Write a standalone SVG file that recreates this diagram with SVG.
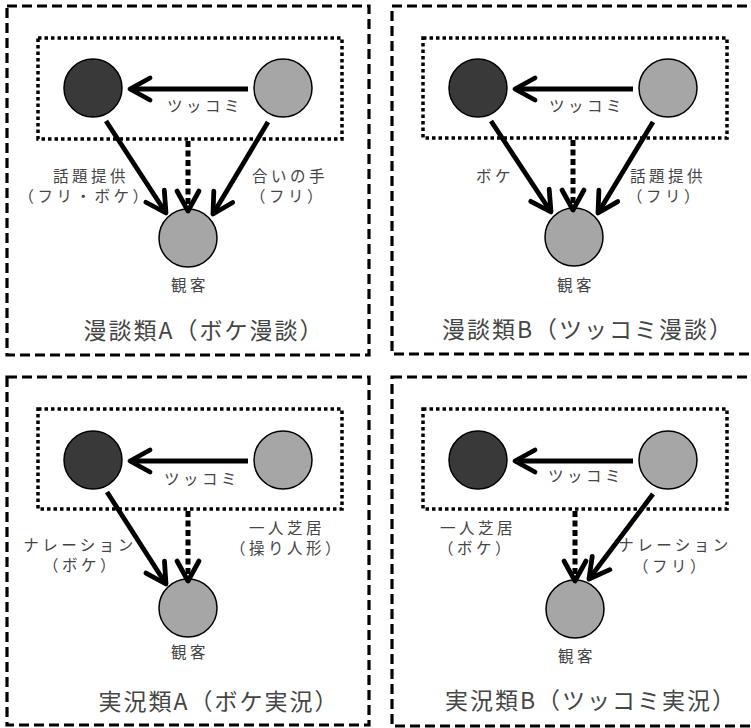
<svg xmlns="http://www.w3.org/2000/svg" width="751" height="728" viewBox="0 0 751 728">
<defs>
<style>
.outer{fill:none;stroke:#000;stroke-width:3.2;stroke-dasharray:10 5}
.inner{fill:none;stroke:#000;stroke-width:3.5;stroke-dasharray:3.5 3}
.dark{fill:#393939;stroke:#000;stroke-width:1.5}
.light{fill:#a6a6a6;stroke:#000;stroke-width:1.5}
.arr{fill:none;stroke:#000;stroke-width:4.8;marker-end:url(#ah)}
.dot{fill:none;stroke:#000;stroke-width:5;stroke-dasharray:6 3.5;marker-end:url(#ah)}
text{font-family:"Noto Sans CJK JP","Noto Sans",sans-serif;fill:#454545;text-anchor:middle}
.lbl{font-size:15.5px;letter-spacing:3.5px}
.ttl{font-size:23px;letter-spacing:2px}
</style>
<marker id="ah" viewBox="-24 -15 30 30" refX="0" refY="0" markerWidth="30" markerHeight="30" markerUnits="userSpaceOnUse" orient="auto">
<path d="M-20,-11 L0,0 L-20,11" fill="none" stroke="#000" stroke-width="4.8" stroke-linejoin="round" stroke-linecap="round"/>
</marker>
</defs>

<!-- Panel A -->
<g id="panelA">
<rect class="outer" x="7" y="6" width="362" height="349"/>
<rect class="inner" x="38" y="38" width="304" height="101"/>
<g id="A-boke"><circle class="dark" cx="93" cy="88" r="29"/></g>
<g id="A-tsukkomi"><circle class="light" cx="283" cy="88" r="29"/></g>
<g id="A-audience"><circle class="light" cx="188" cy="238" r="29"/><text class="lbl" x="190" y="291">観客</text></g>
<g id="A-connectors">
<line class="arr" x1="248" y1="89" x2="130" y2="89"/>
<line class="arr" x1="106" y1="121" x2="166" y2="213"/>
<line class="arr" x1="268" y1="122" x2="213" y2="214"/>
<line class="dot" x1="188" y1="141" x2="188" y2="211"/>
</g>
<g id="A-labels">
<text class="lbl" x="205" y="112">ツッコミ</text>
<text class="lbl" x="91" y="182">話題提供</text>
<text class="lbl" x="85" y="202">（フリ・ボケ）</text>
<text class="lbl" x="290" y="182">合いの手</text>
<text class="lbl" x="288" y="202">（フリ）</text>
</g>
<text class="ttl" x="204" y="339">漫談類A（ボケ漫談）</text>
</g>

<!-- Panel B -->
<g id="panelB" transform="translate(385,0)">
<rect class="outer" x="7" y="6" width="372" height="348"/>
<rect class="inner" x="38" y="38" width="304" height="100"/>
<g id="B-boke"><circle class="dark" cx="93" cy="88" r="29"/></g>
<g id="B-tsukkomi"><circle class="light" cx="283" cy="88" r="29"/></g>
<g id="B-audience"><circle class="light" cx="189" cy="237" r="29"/><text class="lbl" x="191" y="291">観客</text></g>
<g id="B-connectors">
<line class="arr" x1="248" y1="89" x2="130" y2="89"/>
<line class="arr" x1="106" y1="121" x2="166" y2="212"/>
<line class="arr" x1="268" y1="122" x2="213" y2="213"/>
<line class="dot" x1="188" y1="140" x2="188" y2="210"/>
</g>
<g id="B-labels">
<text class="lbl" x="202" y="112">ツッコミ</text>
<text class="lbl" x="110" y="182">ボケ</text>
<text class="lbl" x="283" y="182">話題提供</text>
<text class="lbl" x="280" y="202">（フリ）</text>
</g>
<text class="ttl" x="203" y="338">漫談類B（ツッコミ漫談）</text>
</g>

<!-- Panel C -->
<g id="panelC" transform="translate(0,371)">
<rect class="outer" x="7" y="6" width="362" height="348"/>
<rect class="inner" x="38" y="38" width="304" height="100"/>
<g id="C-boke"><circle class="dark" cx="93" cy="89" r="29"/></g>
<g id="C-tsukkomi"><circle class="light" cx="283" cy="89" r="29"/></g>
<g id="C-audience"><circle class="light" cx="188" cy="237" r="29"/><text class="lbl" x="190" y="287">観客</text></g>
<g id="C-connectors">
<line class="arr" x1="248" y1="90" x2="130" y2="90"/>
<line class="arr" x1="107" y1="121" x2="166" y2="213"/>
<line class="dot" x1="188" y1="140" x2="188" y2="210"/>
</g>
<g id="C-labels">
<text class="lbl" x="202" y="114">ツッコミ</text>
<text class="lbl" x="80" y="180">ナレーション</text>
<text class="lbl" x="81" y="200">（ボケ）</text>
<text class="lbl" x="287" y="163">一人芝居</text>
<text class="lbl" x="287" y="183">（操り人形）</text>
</g>
<text class="ttl" x="219" y="339">実況類A（ボケ実況）</text>
</g>

<!-- Panel D -->
<g id="panelD" transform="translate(385,371)">
<rect class="outer" x="7" y="6" width="372" height="349"/>
<rect class="inner" x="38" y="38" width="304" height="100"/>
<g id="D-boke"><circle class="dark" cx="93" cy="89" r="29"/></g>
<g id="D-tsukkomi"><circle class="light" cx="283" cy="89" r="29"/></g>
<g id="D-audience"><circle class="light" cx="190" cy="238" r="29"/><text class="lbl" x="192" y="291">観客</text></g>
<g id="D-connectors">
<line class="arr" x1="248" y1="90" x2="130" y2="90"/>
<line class="arr" x1="268" y1="123" x2="204" y2="208"/>
<line class="dot" x1="190" y1="140" x2="190" y2="210"/>
</g>
<g id="D-labels">
<text class="lbl" x="201" y="111">ツッコミ</text>
<text class="lbl" x="93" y="163">一人芝居</text>
<text class="lbl" x="91" y="183">（ボケ）</text>
<text class="lbl" x="290" y="180">ナレーション</text>
<text class="lbl" x="286" y="201">（フリ）</text>
</g>
<text class="ttl" x="206" y="338">実況類B（ツッコミ実況）</text>
</g>
</svg>
